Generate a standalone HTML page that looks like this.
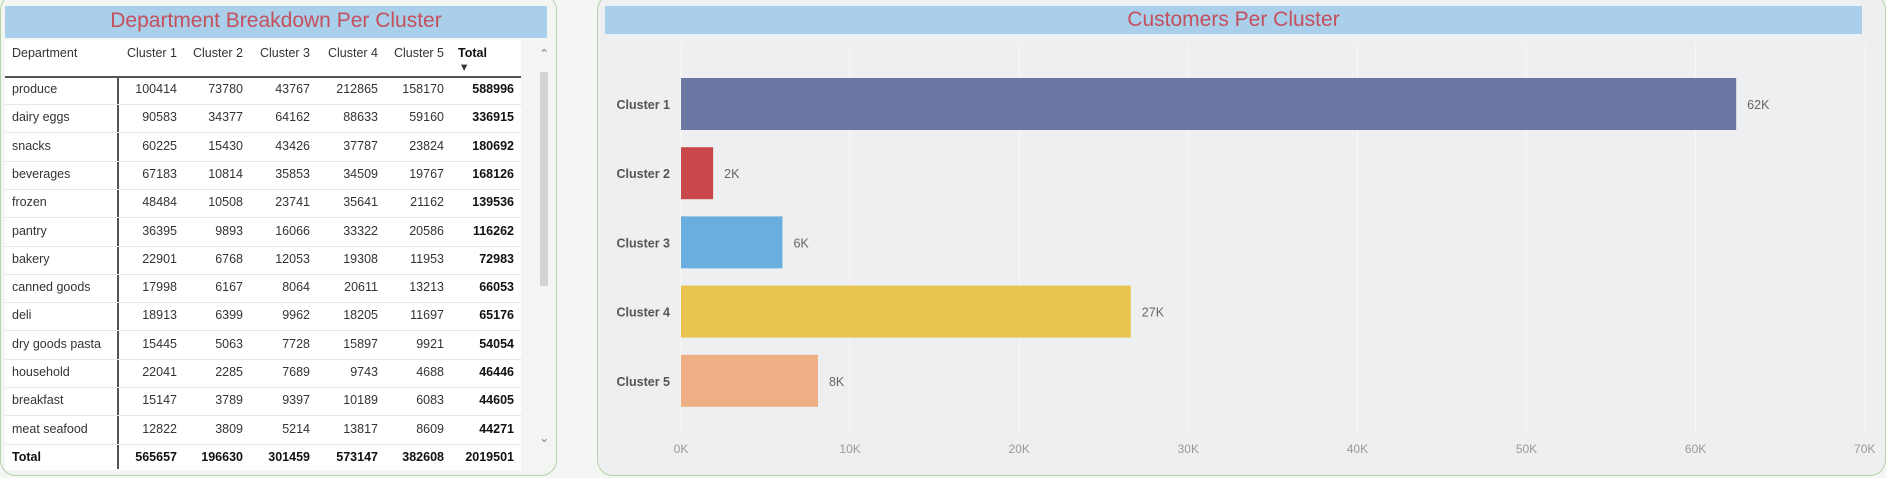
<!DOCTYPE html>
<html><head><meta charset="utf-8"><style>
body{margin:0;width:1886px;height:478px;background:#f4f6f4;font-family:"Liberation Sans",sans-serif;position:relative;overflow:hidden}
.panel{position:absolute;border:1.5px solid #b5d3a8;border-radius:16px;box-sizing:border-box}
.band{position:absolute;background:#a9cfeb;color:#c4505c;font-size:21px;text-align:center;line-height:30px}
.t{position:absolute;font-size:12.5px;color:#333;white-space:nowrap}
</style></head><body>
<div class="panel" style="left:0;top:-6px;width:557px;height:482px;background:#f3f5f3"></div>
<div class="band" style="left:5px;top:6px;width:542px;height:32px">Department Breakdown Per Cluster</div>
<div style="position:absolute;left:5px;top:40px;width:516px;height:430px;background:#fff"></div>
<div id="tbl"></div>
<div style="position:absolute;left:540px;top:72px;width:8px;height:214px;background:#d3d3d3"></div>
<div class="t" style="left:539px;top:46px;color:#888">&#8963;</div>
<div class="t" style="left:539px;top:430px;color:#888">&#8964;</div>

<div class="panel" style="left:597px;top:-6px;width:1289px;height:482px;background:#eeeff1"></div>
<div class="band" style="left:605px;top:6px;width:1257px;height:28px;line-height:28px">Customers Per Cluster</div>
<svg id="ch" width="1886" height="478" style="position:absolute;left:0;top:0"></svg>
<script>
const depts=["produce","dairy eggs","snacks","beverages","frozen","pantry","bakery","canned goods","deli","dry goods pasta","household","breakfast","meat seafood"];
const c1=[100414,90583,60225,67183,48484,36395,22901,17998,18913,15445,22041,15147,12822];
const c2=[73780,34377,15430,10814,10508,9893,6768,6167,6399,5063,2285,3789,3809];
const c3=[43767,64162,43426,35853,23741,16066,12053,8064,9962,7728,7689,9397,5214];
const c4=[212865,88633,37787,34509,35641,33322,19308,20611,18205,15897,9743,10189,13817];
const c5=[158170,59160,23824,19767,21162,20586,11953,13213,11697,9921,4688,6083,8609];
const tot=[588996,336915,180692,168126,139536,116262,72983,66053,65176,54054,46446,44605,44271];
const totRow=["565657","196630","301459","573147","382608","2019501"];
const headers=["Cluster 1","Cluster 2","Cluster 3","Cluster 4","Cluster 5","Total"];
const rights=[177,243,310,378,444,514];
const T=document.getElementById('tbl');
function txt(s,x,y,right,bold,name){const d=document.createElement('div');d.className='t';


d.textContent=s;d.style.top=(y-8)+'px';if(right){d.style.right=(1886-x)+'px'}else d.style.left=x+'px';if(bold){d.style.fontWeight='bold';d.style.color='#111'}T.appendChild(d);}
txt("Department",12,54,false,false,'header-department');
headers.forEach((h,i)=>{const b=i==5;txt(h,b?458:rights[i],54,!b,b,'header-'+h.toLowerCase().replace(' ','-'));});
txt("▾",461,67,false,false,'sort-indicator');
function line(x,y,w,h,c,n){const d=document.createElement('div');

d.style.cssText=`position:absolute;left:${x}px;top:${y}px;width:${w}px;height:${h}px;background:${c}`;T.appendChild(d);}
line(5,76,516,2,'#555','header-rule');line(117,77,2,392,'#555','column-divider');
const cols=[c1,c2,c3,c4,c5];
depts.forEach((d,r)=>{const y=90+r*28.3;
txt(d,12,y,false,false,'row-label');
cols.forEach((c,i)=>txt(String(c[r]),rights[i],y,true,false,'cell'));
txt(String(tot[r]),514,y,true,true,'row-total');
line(5,y+14,516,1,'#e4e6e8','row-rule');});
txt("Total",12,458,false,true,'total-label');
totRow.forEach((v,i)=>txt(v,rights[i],458,true,true,'total-cell'));

const cats=["Cluster 1","Cluster 2","Cluster 3","Cluster 4","Cluster 5"];
const vals=[62.4,1.9,6.0,26.6,8.1];
const labels=["62K","2K","6K","27K","8K"];
const ticks=[0,10,20,30,40,50,60,70];
const colors=["#6b77a3","#c9494a","#6aaee0","#e8c44f","#eeaf85"];
const S=document.getElementById('ch'),NS='http://www.w3.org/2000/svg';
const x=v=>681+v*16.91, y=i=>104+i*69.2;
function el(t,a,name,txtc){const e=document.createElementNS(NS,t);for(const k in a)e.setAttribute(k,a[k]);


if(txtc!=null)e.textContent=txtc;S.appendChild(e);return e;}
ticks.forEach(t=>{el('line',{x1:x(t),x2:x(t),y1:44,y2:434,stroke:'#f8f8f8','stroke-width':1},'gridline');
el('text',{x:x(t),y:453,'font-size':12,fill:'#999','text-anchor':'middle','font-family':'Liberation Sans'},'x-tick-label',t+'K');});
cats.forEach((c,i)=>{
el('rect',{x:x(0),y:y(i)-26,width:x(vals[i])-x(0),height:52,fill:colors[i]},'bar-'+(i+1));
el('text',{x:670,y:y(i)+5,'font-size':12.5,fill:'#555','font-weight':'bold','text-anchor':'end','font-family':'Liberation Sans'},'y-category-label',c);
el('text',{x:x(vals[i])+11,y:y(i)+5,'font-size':12.5,fill:'#666','font-family':'Liberation Sans'},'data-label',labels[i]);});
</script>
</body></html>
